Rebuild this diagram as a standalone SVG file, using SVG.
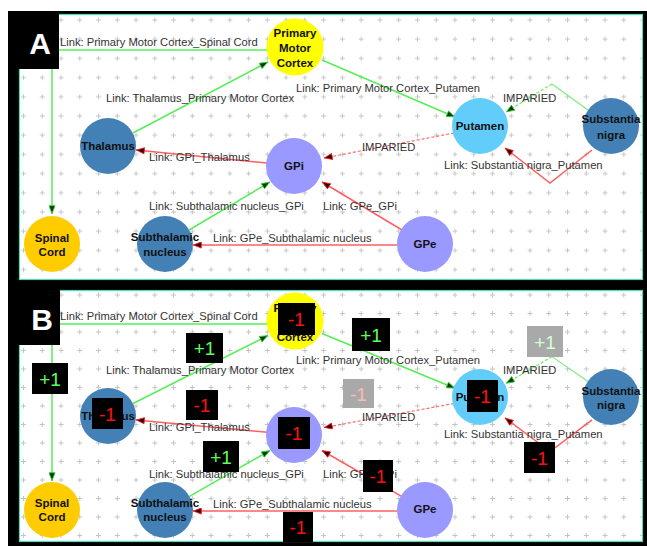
<svg xmlns="http://www.w3.org/2000/svg" width="647" height="546" viewBox="0 0 647 546">
<style>
.lnk{font-family:"Liberation Sans",Arial,sans-serif;font-size:11.2px;fill:#333}
.nd{font-family:"Liberation Sans",Arial,sans-serif;font-size:11.5px;font-weight:bold;fill:#111;text-anchor:middle}
.pl{font-family:"Liberation Sans",Arial,sans-serif;font-size:30px;font-weight:bold;fill:#fff;text-anchor:middle}
.g{stroke:#55ee55;stroke-width:1.5;fill:none}
.r{stroke:#ff5f5f;stroke-width:1.5;fill:none}
.gd{stroke:#66ee66;stroke-width:1.2;fill:none;stroke-dasharray:3 2}
.gt{stroke:#77ee77;stroke-width:1.1;fill:none}
.rd{stroke:#ff6b6b;stroke-width:1.2;fill:none;stroke-dasharray:3 2}
.bx{fill:#000}
.gbx{fill:#a9a9a9}
.bt{font-family:"Liberation Sans",Arial,sans-serif;font-size:19px;text-anchor:middle}
.p{fill:#5cff5c}
.m{fill:#ff1010}
.pg{fill:#d4ffd4}
.mg{fill:#ffb8b8}
.fr{fill:#fff;stroke:#50dcb4;stroke-width:1.2}
</style>
<defs>
<pattern id="gridA" patternUnits="userSpaceOnUse" x="51.62" y="10.4" width="18.76" height="19.2">
<path d="M6.88,9.6 H11.88 M9.38,7.1 V12.1" stroke="#c4c4c4" stroke-width="1"/>
</pattern>
<pattern id="gridB" patternUnits="userSpaceOnUse" x="51.62" y="285.75" width="18.76" height="18.5">
<path d="M6.88,9.25 H11.88 M9.38,6.75 V11.75" stroke="#c4c4c4" stroke-width="1"/>
</pattern>
<marker id="ag" viewBox="0 0 10 8" refX="10" refY="4" markerWidth="9" markerHeight="7" orient="auto" markerUnits="userSpaceOnUse">
<path d="M0.5,0.5 L9.5,4 L0.5,7.5 z" fill="#0c3a0c" stroke="#33cc33" stroke-width="1"/>
</marker>
<marker id="ar" viewBox="0 0 10 8" refX="10" refY="4" markerWidth="9" markerHeight="7" orient="auto" markerUnits="userSpaceOnUse">
<path d="M0.5,0.5 L9.5,4 L0.5,7.5 z" fill="#3a0000" stroke="#ee2222" stroke-width="1"/>
</marker>
</defs>

<rect x="0" y="0" width="647" height="546" fill="#fff"/>
<rect x="8" y="11" width="639" height="535" fill="#000"/>

<g id="panelA-frame">
<rect class="fr" x="19.5" y="14.5" width="623" height="265"/>
<rect x="20" y="15" width="622" height="264" fill="url(#gridA)"/>
</g>
<g id="panelB-frame">
<rect class="fr" x="19.5" y="290.5" width="623" height="251"/>
<rect x="20" y="291" width="622" height="250" fill="url(#gridB)"/>
</g>

<!-- Panel A connectors -->
<g id="A-connectors">
<path class="g" d="M267,50 H52 V214" marker-end="url(#ag)"/>
<path class="g" d="M133,133 L268,62" marker-end="url(#ag)"/>
<path class="g" d="M322,60 L455,117" marker-end="url(#ag)"/>
<path class="gt" d="M588,110 L552,84"/>
<path class="gd" d="M552,84 L506,112" marker-end="url(#ag)"/>
<path class="r" d="M592,150 L550,183 L505,148" marker-end="url(#ar)"/>
<path class="rd" d="M454,133 L324,158" marker-end="url(#ar)"/>
<path class="r" d="M267,163 L136,150" marker-end="url(#ar)"/>
<path class="g" d="M189,230 L270,182" marker-end="url(#ag)"/>
<path class="r" d="M402,230 L322,182" marker-end="url(#ar)"/>
<path class="r" d="M397,245 H193" marker-end="url(#ar)"/>
<text class="lnk" x="60" y="46">Link: Primary Motor Cortex_Spinal Cord</text>
<text class="lnk" x="106" y="102">Link: Thalamus_Primary Motor Cortex</text>
<text class="lnk" x="296" y="92">Link: Primary Motor Cortex_Putamen</text>
<text class="lnk" x="503" y="102">IMPARIED</text>
<text class="lnk" x="444" y="169">Link: Substantia nigra_Putamen</text>
<text class="lnk" x="362" y="151">IMPARIED</text>
<text class="lnk" x="149" y="161">Link: GPi_Thalamus</text>
<text class="lnk" x="149" y="210">Link: Subthalamic nucleus_GPi</text>
<text class="lnk" x="323" y="210">Link: GPe_GPi</text>
<text class="lnk" x="213" y="242">Link: GPe_Subthalamic nucleus</text>
</g>

<!-- Panel A nodes -->
<g id="A-pmc"><circle cx="295" cy="47" r="28.5" fill="#ffff00"/><text class="nd" x="295" y="37">Primary</text><text class="nd" x="295" y="52">Motor</text><text class="nd" x="295" y="67">Cortex</text></g>
<g id="A-thalamus"><circle cx="108" cy="146" r="28" fill="#4380b5"/><text class="nd" x="108" y="150">Thalamus</text></g>
<g id="A-gpi"><circle cx="294" cy="166" r="28" fill="#9999ff"/><text class="nd" x="294" y="170">GPi</text></g>
<g id="A-spinal"><circle cx="52" cy="244" r="28" fill="#ffcc00"/><text class="nd" x="52" y="242">Spinal</text><text class="nd" x="52" y="256">Cord</text></g>
<g id="A-stn"><circle cx="165" cy="244" r="28" fill="#4380b5"/><text class="nd" x="165" y="241">Subthalamic</text><text class="nd" x="165" y="256">nucleus</text></g>
<g id="A-gpe"><circle cx="425" cy="244" r="28" fill="#9999ff"/><text class="nd" x="425" y="248">GPe</text></g>
<g id="A-putamen"><circle cx="480" cy="126" r="28" fill="#62cdfa"/><text class="nd" x="480" y="130">Putamen</text></g>
<g id="A-sn"><circle cx="611" cy="126" r="28" fill="#4380b5"/><text class="nd" x="611" y="123">Substantia</text><text class="nd" x="611" y="139">nigra</text></g>

<g id="A-label"><rect class="bx" x="8" y="11" width="51" height="58"/><text class="pl" x="40" y="54">A</text></g>

<!-- Panel B connectors -->
<g id="B-connectors">
<path class="g" d="M267,324 H52 V481" marker-end="url(#ag)"/>
<path class="g" d="M133,403.5 L268,335.5" marker-end="url(#ag)"/>
<path class="g" d="M322,333.5 L455,388.2" marker-end="url(#ag)"/>
<path class="gt" d="M588,381.5 L552,356.6"/>
<path class="gd" d="M552,356.6 L506,383.4" marker-end="url(#ag)"/>
<path class="r" d="M592,419.9 L550,451.5 L505,417.9" marker-end="url(#ar)"/>
<path class="rd" d="M454,403.5 L324,427.5" marker-end="url(#ar)"/>
<path class="r" d="M267,432.3 L136,419.9" marker-end="url(#ar)"/>
<path class="g" d="M189,496.6 L270,450.5" marker-end="url(#ag)"/>
<path class="r" d="M402,496.6 L322,450.5" marker-end="url(#ar)"/>
<path class="r" d="M397,511 H193" marker-end="url(#ar)"/>
<text class="lnk" x="60" y="320">Link: Primary Motor Cortex_Spinal Cord</text>
<text class="lnk" x="106" y="374">Link: Thalamus_Primary Motor Cortex</text>
<text class="lnk" x="296" y="364">Link: Primary Motor Cortex_Putamen</text>
<text class="lnk" x="503" y="374">IMPARIED</text>
<text class="lnk" x="444" y="437.5">Link: Substantia nigra_Putamen</text>
<text class="lnk" x="362" y="420.5">IMPARIED</text>
<text class="lnk" x="149" y="430.5">Link: GPi_Thalamus</text>
<text class="lnk" x="149" y="477.5">Link: Subthalamic nucleus_GPi</text>
<text class="lnk" x="323" y="477.5">Link: GPe_GPi</text>
<text class="lnk" x="213" y="508">Link: GPe_Subthalamic nucleus</text>
</g>

<!-- Panel B nodes -->
<g id="B-pmc"><circle cx="295" cy="321" r="28.5" fill="#ffff00"/><text class="nd" x="295" y="312">Primary</text><text class="nd" x="295" y="326.5">Motor</text><text class="nd" x="295" y="341">Cortex</text></g>
<g id="B-thalamus"><circle cx="108" cy="416" r="28" fill="#4380b5"/><text class="nd" x="108" y="420">Thalamus</text></g>
<g id="B-gpi"><circle cx="294" cy="435" r="28" fill="#9999ff"/><text class="nd" x="294" y="439">GPi</text></g>
<g id="B-spinal"><circle cx="52" cy="510" r="28" fill="#ffcc00"/><text class="nd" x="52" y="507">Spinal</text><text class="nd" x="52" y="521">Cord</text></g>
<g id="B-stn"><circle cx="165" cy="510" r="28" fill="#4380b5"/><text class="nd" x="165" y="507">Subthalamic</text><text class="nd" x="165" y="521">nucleus</text></g>
<g id="B-gpe"><circle cx="425" cy="510" r="28" fill="#9999ff"/><text class="nd" x="425" y="513">GPe</text></g>
<g id="B-putamen"><circle cx="480" cy="397" r="28" fill="#62cdfa"/><text class="nd" x="480" y="401">Putamen</text></g>
<g id="B-sn"><circle cx="611" cy="397" r="28" fill="#4380b5"/><text class="nd" x="611" y="395">Substantia</text><text class="nd" x="611" y="409">nigra</text></g>

<g id="B-label"><rect class="bx" x="8" y="289" width="52" height="56"/><text class="pl" x="42" y="330">B</text></g>

<!-- Panel B badges -->
<g id="B-badges">
<rect class="bx" x="278" y="303" width="37" height="32"/><text class="bt m" x="296.5" y="326">-1</text>
<rect class="bx" x="186" y="333" width="37" height="30"/><text class="bt p" x="204.5" y="355">+1</text>
<rect class="bx" x="32" y="363" width="36" height="31"/><text class="bt p" x="50" y="385.5">+1</text>
<rect class="bx" x="186" y="390" width="32" height="30"/><text class="bt m" x="202" y="412">-1</text>
<rect class="bx" x="92" y="398" width="31" height="31"/><text class="bt m" x="107.5" y="420.5">-1</text>
<rect class="bx" x="352" y="318" width="38" height="33"/><text class="bt p" x="371" y="341.5">+1</text>
<rect class="gbx" x="527" y="326" width="36" height="31"/><text class="bt pg" x="545" y="348.5">+1</text>
<rect class="gbx" x="343" y="379" width="31" height="29"/><text class="bt mg" x="358.5" y="400.5">-1</text>
<rect class="bx" x="467" y="380" width="31" height="32"/><text class="bt m" x="482.5" y="403">-1</text>
<rect class="bx" x="278" y="417" width="32" height="32"/><text class="bt m" x="294" y="440">-1</text>
<rect class="bx" x="203" y="441" width="36" height="31"/><text class="bt p" x="221" y="463.5">+1</text>
<rect class="bx" x="283" y="512" width="30" height="30"/><text class="bt m" x="298" y="534">-1</text>
<rect class="bx" x="363" y="460" width="30" height="32"/><text class="bt m" x="378" y="483">-1</text>
<rect class="bx" x="524" y="442" width="31" height="31"/><text class="bt m" x="539.5" y="464.5">-1</text>
</g>
</svg>
